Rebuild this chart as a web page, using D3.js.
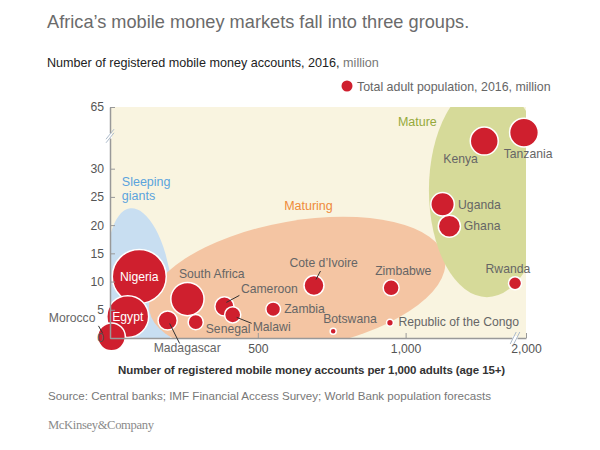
<!DOCTYPE html>
<html>
<head>
<meta charset="utf-8">
<script src="https://cdn.jsdelivr.net/npm/d3@7"></script>
<style>
  body { margin: 0; background: #fff; }
  text { font-family: "Liberation Sans", Arial, Helvetica, sans-serif; }
  text.serif { font-family: "Liberation Serif", "Times New Roman", serif; }
</style>
</head>
<body>
<div id="chart"></div>
<script>
// Values
var countries = ["Morocco", "Egypt", "Nigeria", "Madagascar", "South Africa", "Senegal",
                 "Cameroon", "Malawi", "Zambia", "Cote d’Ivoire", "Botswana",
                 "Republic of the Congo", "Zimbabwe", "Ghana", "Uganda", "Kenya",
                 "Tanzania", "Rwanda"];
// registered mobile money accounts per 1,000 adults
var accountsPer1000 = [5, 60, 99, 195, 262, 290, 387, 415, 552, 690, 755, 947, 951, 1148, 1125, 1266, 1885, 1372];
// registered mobile money accounts, 2016, million
var accountsMillion = [0.2, 3.8, 10.9, 3.1, 6.9, 2.8, 5.6, 4.1, 5.1, 9.3, 1.2, 2.7, 8.9, 19.8, 23.7, 34.9, 36.4, 9.7];
// total adult population, 2016, million
var adultPopMillion = [25, 57, 95, 12, 36, 7.5, 12, 8.5, 7, 13, 1.2, 1.5, 8.3, 16, 18, 25.5, 27, 5.6];

var groupNames = [["Sleeping", "giants"], ["Maturing"], ["Mature"]];
var yTicks = [0, 5, 10, 15, 20, 25, 30, 65];
var xTicks = [500, 1000, 2000];

var width = 600,
    height = 450;
var plot = {left: 110, right: 526, top: 107, bottom: 338};

var svg = d3.select("#chart")
    .append("svg")
    .attr("width", width)
    .attr("height", height);

// broken axes: 0-1,370 linear then squeezed to 2,000; 0-36.5 linear then squeezed to 65
var x = d3.scaleLinear().domain([0, 1370, 2000]).range([plot.left, 515, plot.right]);
var y = d3.scaleLinear().domain([0, 36.5, 65]).range([plot.bottom, 132, plot.top]);
var r = d3.scaleSqrt().domain([0, 95]).range([0, 27]);

var red = "#cf1f2e";

// titles
svg.append("text")
    .attr("x", 47).attr("y", 28)
    .attr("font-size", 18.2)
    .attr("fill", "#6b6b6b")
    .text("Africa’s mobile money markets fall into three groups.");

var sub = svg.append("text")
    .attr("x", 47).attr("y", 67)
    .attr("font-size", 12.6);
sub.append("tspan").attr("fill", "#222").text("Number of registered mobile money accounts, 2016,");
sub.append("tspan").attr("fill", "#777").text(" million");

// legend
svg.append("circle").attr("cx", 347).attr("cy", 86).attr("r", 5.5).attr("fill", red);
svg.append("text")
    .attr("x", 357).attr("y", 90.5)
    .attr("font-size", 12.4)
    .attr("fill", "#666")
    .text("Total adult population, 2016, million");

// plot background + group regions
svg.append("clipPath").attr("id", "plotclip")
  .append("rect")
    .attr("x", plot.left).attr("y", plot.top)
    .attr("width", plot.right - plot.left).attr("height", plot.bottom - plot.top);

svg.append("rect")
    .attr("x", plot.left).attr("y", plot.top)
    .attr("width", plot.right - plot.left).attr("height", plot.bottom - plot.top)
    .attr("fill", "#f9f4e0");

// region shapes: centre in data units, radii in px
var regions = [
    {cx: 101, cy: 8.9, rx: 32, ry: 80, rot: -7, fill: "#c8def1", text: "#5ba3dd", lx: -18, ly: -102},
    {cx: 633, cy: 9.4, rx: 150, ry: 64, rot: -10, fill: "#f4c5a3", text: "#ef8a3a", lx: -13, ly: -75},
    {cx: 1275, cy: 26.2, rx: 58, ry: 107, rot: 0, fill: "#d6da99", text: "#95a93b", lx: -89, ly: -64}
];

var regionG = svg.append("g").attr("clip-path", "url(#plotclip)");
regionG.selectAll("ellipse")
    .data(regions)
    .enter()
    .append("ellipse")
    .attr("transform", d => "translate(" + x(d.cx) + "," + y(d.cy) + ") rotate(" + d.rot + ")")
    .attr("rx", d => d.rx)
    .attr("ry", d => d.ry)
    .attr("fill", d => d.fill);

regions.forEach(function (d, i) {
    var t = svg.append("text")
        .attr("x", x(d.cx) + d.lx)
        .attr("y", y(d.cy) + d.ly)
        .attr("font-size", 12.5)
        .attr("fill", d.text);
    groupNames[i].forEach(function (line, j) {
        t.append("tspan").attr("x", x(d.cx) + d.lx).attr("dy", j ? 14.5 : 0).text(line);
    });
});

// bubbles, biggest first so small ones sit on top
var points = countries.map((c, i) => ({
    name: c, per1000: accountsPer1000[i], accounts: accountsMillion[i], pop: adultPopMillion[i]
})).sort((a, b) => b.pop - a.pop);

svg.selectAll("circle.bubble")
    .data(points)
    .enter()
    .append("circle")
    .attr("class", "bubble")
    .attr("cx", d => x(d.per1000))
    .attr("cy", d => y(d.accounts))
    .attr("r", d => r(d.pop))
    .attr("fill", red)
    .attr("stroke", "#fff")
    .attr("stroke-width", 1.5);

// axes
var yAxis = svg.append("g")
    .attr("transform", "translate(" + plot.left + ",0)")
    .call(d3.axisLeft(y).tickValues(yTicks).tickSize(-5).tickSizeOuter(0).tickPadding(6));
var xAxis = svg.append("g")
    .attr("transform", "translate(0," + plot.bottom + ")")
    .call(d3.axisBottom(x).tickValues(xTicks).tickFormat(d3.format(",")).tickSize(-5).tickSizeOuter(0).tickPadding(6.5));

[yAxis, xAxis].forEach(function (g) {
    g.select(".domain").attr("stroke", "#999").attr("stroke-width", 1.5);
    g.selectAll(".tick line").attr("stroke", "#999");
    g.selectAll(".tick text")
        .attr("fill", "#555")
        .attr("font-size", 12.2);
});

// axis break marks
function breakMark(cx, cy, vertical) {
    var g = svg.append("g").attr("transform", "translate(" + cx + "," + cy + ")");
    g.append("rect")
        .attr("x", vertical ? -2 : -2.5).attr("y", vertical ? -2.5 : -2)
        .attr("width", vertical ? 4 : 5).attr("height", vertical ? 5 : 4)
        .attr("fill", "#fff");
    [-1.8, 1.8].forEach(function (o) {
        g.append("line")
            .attr("x1", vertical ? -4 : -3 + o).attr("y1", vertical ? 5 + o : 6)
            .attr("x2", vertical ? 4 : 3 + o).attr("y2", vertical ? -5 + o : -6)
            .attr("stroke", "#aebccb")
            .attr("stroke-width", 1);
    });
}
breakMark(plot.left, 136, true);
breakMark(515, plot.bottom, false);

// country labels: offsets from bubble centre, optional leader line
var labelLayout = {
    "Morocco":               {dx: -16, dy: -15, anchor: "end", leader: [-13, -11, -9, -4]},
    "Egypt":                 {dx: 0, dy: 4.5, anchor: "middle", fill: "#fff"},
    "Nigeria":               {dx: 0, dy: 4.5, anchor: "middle", fill: "#fff"},
    "Madagascar":            {dx: -14, dy: 31.5, anchor: "start", leader: [2, 3, 12, 23]},
    "South Africa":          {dx: -8.5, dy: -21, anchor: "start"},
    "Senegal":               {dx: 10, dy: 10.5, anchor: "start"},
    "Cameroon":              {dx: 16.5, dy: -13, anchor: "start", leader: [2, -4, 15, -11]},
    "Malawi":                {dx: 20, dy: 16, anchor: "start", leader: [4, 2.5, 19, 8.5]},
    "Zambia":                {dx: 11, dy: 4, anchor: "start"},
    "Cote d’Ivoire":         {dx: -24.5, dy: -19, anchor: "start", leader: [6.5, -14.5, 2, -6]},
    "Botswana":              {dx: -10, dy: -8, anchor: "start"},
    "Republic of the Congo": {dx: 8.5, dy: 3.5, anchor: "start"},
    "Zimbabwe":              {dx: -16, dy: -12.5, anchor: "start"},
    "Ghana":                 {dx: 14.5, dy: 4.2, anchor: "start"},
    "Uganda":                {dx: 15.5, dy: 5, anchor: "start"},
    "Kenya":                 {dx: -41, dy: 22.3, anchor: "start"},
    "Tanzania":              {dx: -20.3, dy: 25.7, anchor: "start"},
    "Rwanda":                {dx: -29.5, dy: -10.5, anchor: "start"}
};

points.forEach(function (d) {
    var L = labelLayout[d.name];
    var cx = x(d.per1000), cy = y(d.accounts);
    if (L.leader) {
        svg.append("line")
            .attr("x1", cx + L.leader[0]).attr("y1", cy + L.leader[1])
            .attr("x2", cx + L.leader[2]).attr("y2", cy + L.leader[3])
            .attr("stroke", "#333")
            .attr("stroke-width", 1);
    }
    svg.append("text")
        .attr("x", cx + L.dx)
        .attr("y", cy + L.dy)
        .attr("text-anchor", L.anchor)
        .attr("font-size", 12.2)
        .attr("fill", L.fill || "#666")
        .text(d.name);
});

// x-axis title and footer
svg.append("text")
    .attr("x", 118).attr("y", 373.5)
    .attr("font-size", 11.5)
    .attr("font-weight", "bold")
    .attr("letter-spacing", -0.1)
    .attr("fill", "#333")
    .text("Number of registered mobile money accounts per 1,000 adults (age 15+)");

svg.append("text")
    .attr("x", 48).attr("y", 400)
    .attr("font-size", 11.6)
    .attr("fill", "#777")
    .text("Source: Central banks; IMF Financial Access Survey; World Bank population forecasts");

svg.append("text")
    .attr("class", "serif")
    .attr("x", 48).attr("y", 429)
    .attr("font-size", 12.6)
    .attr("letter-spacing", -0.35)
    .attr("fill", "#8a8a8a")
    .text("McKinsey&Company");
</script>
</body>
</html>
